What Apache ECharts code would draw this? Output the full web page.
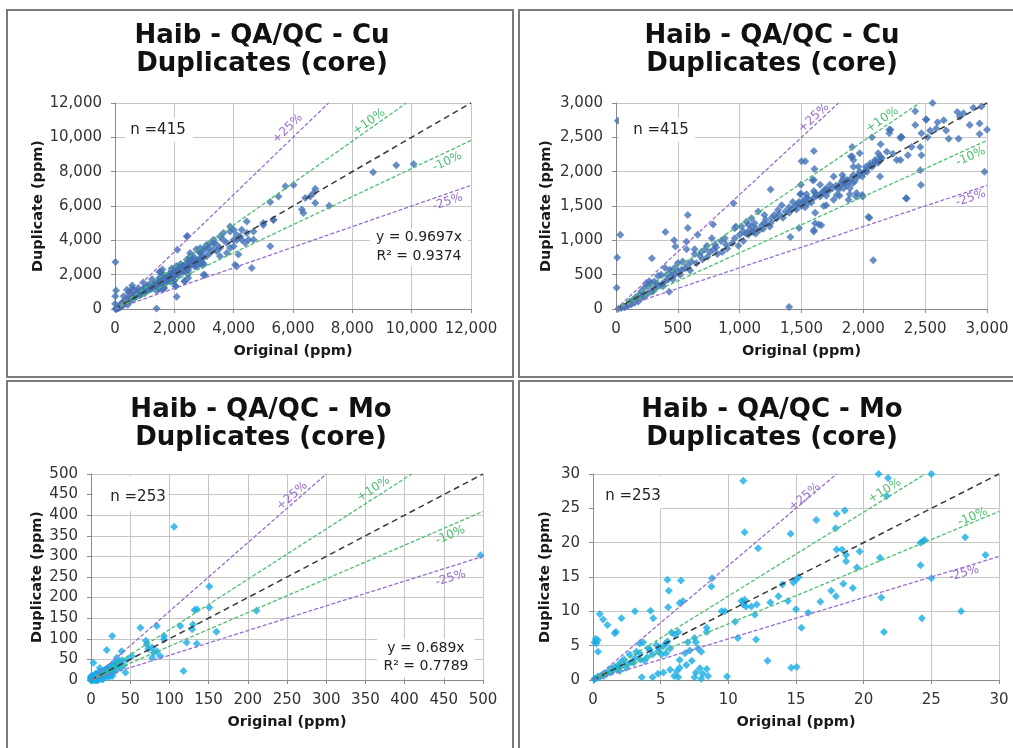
<!DOCTYPE html>
<html><head><meta charset="utf-8">
<script src="https://cdn.jsdelivr.net/npm/echarts@6/dist/echarts.min.js"></script>
<style>html,body{margin:0;padding:0;background:#fff}#c{width:1013px;height:748px}</style>
</head><body><div id="c"></div>
<script>
// ---- data ----
const cuTitle = 'Haib - QA/QC - Cu\nDuplicates (core)';
const moTitle = 'Haib - QA/QC - Mo\nDuplicates (core)';
const cuCountText = 'n =415';
const moCountText = 'n =253';
const cuRegressionText = 'y = 0.9697x\nR² = 0.9374';
const moRegressionText = 'y = 0.689x\nR² = 0.7789';
const refLineLabels = ['+25%', '+10%', '', '-10%', '-25%'];
const refLineSlopes = [1.25 / 0.75, 1.1 / 0.9, 1, 0.9 / 1.1, 0.75 / 1.25];

// Cu duplicates: [original, duplicate] ppm
const cuPoints = [
 [20,5],[45,15],[70,25],[100,50],[125,70],[150,90],[180,110],[205,160],[230,180],[260,230],[285,250],[310,300],
 [340,330],[370,360],[395,400],[420,430],[450,480],[475,500],[500,550],[530,570],[555,590],[580,640],[610,690],
 [650,665],[636,800],[676,780],[690,830],[720,870],[760,830],[790,870],[810,900],[735,920],[775,1030],[800,940],
 [850,990],[880,1030],[890,940],[860,830],[500,670],[475,600],[435,570],[410,500],[395,600],[365,500],[340,480],
 [310,400],[285,380],[260,330],[230,310],[205,260],[190,210],[165,180],[140,140],[110,110],[245,380],[270,400],
 [450,550],[540,690],[636,870],[570,870],[785,1230],[660,1080],[480,910],[60,40],[90,60],[160,140],[220,200],
 [300,260],[330,370],[380,330],[460,430],[520,500],[600,560],[700,720],[740,760],[820,800],[900,880],[940,960],
 [15,2740],[35,1080],[10,750],[5,310],[950,1540],[580,1370],[580,1180],[400,1120],[470,1000],[570,980],
 [1250,1740],[290,740],[430,250],[1400,30],[1410,1050],[1110,1120],[970,1200],[1160,1150],[1480,1180],
 [1500,2150],[1495,1810],[1490,1670],[1400,1480],[1340,1510],[1430,1560],[1460,1450],[1280,1370],[1310,1440],
 [1200,1370],[1150,1420],[1095,1320],[1120,1250],[1070,1230],[1055,1270],[1015,1200],[1030,1130],[1080,1150],
 [1000,1080],[960,1175],[960,1030],[1030,990],[990,920],[1070,1080],[1135,1170],[1200,1250],[1190,1170],
 [1244,1200],[1050,1100],[1100,1130],[1100,1200],[1130,1100],[1180,1220],[1210,1300],[1250,1250],[1260,1330],
 [1300,1320],[1320,1380],[1350,1330],[1370,1420],[1400,1400],[1420,1450],[1450,1500],[1470,1530],[1480,1560],
 [1500,1500],[1520,1560],[1550,1540],[1560,1600],[1600,1620],[1620,1650],[1650,1640],[1680,1700],[1700,1750],
 [1720,1720],[1750,1760],[1780,1800],[1800,1780],[1820,1820],[1850,1830],[1870,1880],[1880,1850],[1900,1900],
 [1920,1950],[1950,1920],[1970,2000],[2000,1980],[2020,2020],[2050,2080],[2080,2100],[2100,2150],[2120,2130],
 [2150,2200],[1495,1680],[1590,1880],[1605,2040],[1600,1150],[1660,1220],[1700,1510],[1700,1650],[1808,1650],
 [1830,1950],[1910,2220],[1914,1830],[1940,1640],[1995,1640],[2050,1330],[2080,710],[2070,2500],[2210,2610],
 [2305,2510],[2345,1612],[2466,1806],[2506,2760],[2560,3000],
 [1600,2300],[1530,2150],[2890,2930],[2955,2950],[2810,2850],[2780,2800],[2860,2680],[2940,2700],[3000,2610],
 [2940,2550],[2690,2480],[2770,2480],[2670,2600],[2650,2750],[2590,2630],[2600,2720],[2510,2760],[2540,2600],
 [2470,2560],[2520,2500],[2460,2360],[2470,2240],[2460,2020],[2350,1610],[2310,2500],[2220,2610],[2270,2170],
 [2300,2170],[2360,2240],[2390,2360],[2240,2260],[2140,2400],[2120,2270],[2135,2220],[2095,2170],[2070,2070],
 [2055,2120],[2135,1930],[2040,1340],[1900,2220],[1920,2170],[1920,2070],[1960,2070],[1990,1930],[2020,2070],
 [2030,2000],[1960,1950],[1840,1900],[1760,1930],[1825,1860],[1860,1810],[1840,1760],[1800,1740],[1890,1670],
 [1946,1690],[1880,1590],[1990,1660],[1785,1660],[1730,1810],[1690,1740],[1660,1690],[1610,1690],[1650,1810],
 [1600,1880],[1600,1720],[1540,1620],[1580,1550],[1515,1580],[1540,1670],[1680,1500],[1610,1400],[1530,1480],
 [1610,1250],[1640,1230],[1600,1130],[1760,1590],[1890,1760],[1930,1860],[1970,2270],[2135,2170],
 [8700,7960],[9480,8370],[10065,8450],[5740,7150],[6020,7220],[5510,6560],[5230,6230],[6690,6760],[6750,7010],
 [6580,6560],[6410,6470],[6300,5790],[6350,5590],[6750,6170],[7220,6020],[5340,5200],[5230,3650],[4670,4040],
 [5000,5010],[4670,4520],[4440,5100],[4440,4430],[4270,4620],[4390,3840],[4610,2390],[4050,2580],[4160,3170],
 [3880,3550],[4000,4040],[3880,4520],[3650,4040],[3430,3750],[3320,4040],[3090,3070],[2980,2000],[2420,4230],
 [2440,4250],[5340,5180],[5000,4890],[4100,2470],[4100,4020],[3880,4800],[3540,4220],[3200,3820],[2870,3340],
 [3030,1980],[3030,3600],[2530,3050],[2210,2560],[1910,2360],[2100,3450],[2740,3480],[2420,2880],
 [3090,3750],[2870,3550],[3320,3460],[3540,3550],[3770,3840],[4000,3650],[4220,4230],[3200,3260],[2760,2870],
 [2920,3170],[2640,3070],[2530,3260],[3540,3070],[3770,3260],[3430,3360],[3030,3460],[4270,4040],[4500,4040],
 [4100,4330],[3320,3840],[3650,4430],[4000,4620],[3150,3550],[2870,3260],[2420,2680],[2300,2490],[2190,2290]
];

// Mo duplicates: [original, duplicate] ppm
const moPoints = [
 [0.1,0.1],[0.12,0.2],[0.37,0.5],[0.62,0.7],[0.86,0.9],[1.1,1.2],[1.35,1.7],[1.6,1.9],[1.85,2.2],[2.1,2.7],
 [2.3,3.0],[2.7,3.7],[3.1,3.2],[3.2,4.1],[3.45,3.9],[3.45,5.3],[3.7,5.5],[4.1,4.6],[4.4,3.7],[4.2,4.4],[4.7,5.1],
 [4.8,4.2],[4.9,4.7],[5.05,3.7],[5.2,4.9],[5.4,3.9],[5.4,5.4],[5.5,5.6],[5.7,4.6],[5.8,6.9],[6.04,6.6],[6.3,7.0],
 [3.8,2.8],[2.8,2.6],[2.46,1.8],[1.97,1.3],[0.3,0.3],[0.5,0.4],[0.8,0.6],[1.0,0.9],[1.3,1.1],[1.5,1.4],[1.8,1.6],
 [2.0,2.0],[2.5,2.3],[3.0,2.5],[3.5,3.0],[4.0,3.3],
 [0.5,9.6],[0.75,8.8],[1.06,8.0],[1.6,6.8],[1.7,7.0],[0.1,5.5],[0.25,5.3],[0.2,6.0],[0.35,5.8],[0.37,4.1],
 [2.1,9.0],[3.1,10.0],[4.25,10.1],[4.45,9.0],[5.5,14.6],[6.5,14.5],[5.6,13.0],[8.8,14.8],[8.75,13.6],[6.4,11.2],
 [6.65,11.5],[5.55,10.6],
 [6.2,1.3],[6.4,1.8],[6.0,0.6],[6.3,0.4],[4.4,0.4],[4.8,0.9],[5.2,1.1],[5.7,1.5],[3.6,0.4],[7.3,2.8],[7.6,1.1],
 [7.9,1.7],[8.1,0.9],[8.4,1.6],[8.5,0.6],[7.5,0.4],[8.0,0.2],[6.8,3.9],[6.4,2.9],[6.9,2.2],[9.9,0.5],[8.4,7.6],
 [8.4,7.0],[7.5,6.1],[7.6,5.5],[7.76,4.6],[8.0,4.1],[7.0,5.5],[7.15,4.3],
 [9.5,10.0],[9.75,10.0],[10.97,11.5],[11.1,11.0],[11.2,11.7],[11.3,10.7],[11.95,9.5],[12.1,11.0],[11.7,10.7],
 [13.1,11.3],[13.7,12.2],[14.4,11.5],[14.8,14.2],[14.0,13.9],[10.5,8.5],[10.7,6.1],[12.05,5.9],[12.9,2.8],
 [14.65,1.8],[11.1,29.0],[11.2,21.5],[12.2,19.2],[14.6,21.3],
 [21.1,30.0],[21.8,29.4],[21.7,26.8],[16.5,23.3],[18.0,24.2],[18.6,24.7],[17.93,22.1],[18.0,19.0],[18.4,19.0],
 [18.7,18.2],[18.7,17.3],[19.7,18.7],[19.5,16.4],[21.2,17.8],[21.3,12.0],[21.5,7.0],[17.6,13.0],[17.95,12.2],
 [18.5,14.0],[19.2,13.4],[16.8,11.4],[15.9,9.8],[15.4,7.6],[15.05,1.9],[15.0,14.6],[15.2,15.0],[15.0,10.3],
 [24.2,20.0],[24.5,20.4],[24.4,20.2],[24.2,16.7],[25.0,14.8],[24.3,9.0],[27.2,10.0],[27.5,20.8],[29.0,18.2],
 [106,372],[151,227],[151,176],[132,170],[135,172],[211,168],[497,303],[160,117],[135,88],[122,91],[118,22],
 [114,131],[129,123],[130,135],[84,131],[93,107],[93,99],[63,127],[70,95],[71,87],[78,79],[80,66],[84,70],
 [88,58],[78,54],[73,75],[52,58],[46,50],[44,18],[39,70],[27,107],[20,73],[3,42],[33,54],[29,42],
 [25,30],[28,35],[32,40],[35,38],[24,32],[36,45],[40,48],[38,30],[33,25],[31,33],[42,36]
];

// ---- layout / style ----
const FONT = 'DejaVu Sans';
const PURPLE = '#9b6ccf', GREEN = '#4cbf6e', BLACK = '#3a3a3a';
const refColors = [PURPLE, GREEN, BLACK, GREEN, PURPLE];
const fmt = v => Number(v).toLocaleString('en-US');

const panels = [
  {title: cuTitle, titleX: 262, titleY: 22, data: cuPoints, max: 12000, interval: 2000, color: '#4273b6',
   grid: {left:115, top:103, width:356, height:206}, yGap: 69,
   labels: [['insideEndTop',[29,4]],['insideEndTop',[23,0]],null,['insideEndBottom',[15,3]],['insideEndBottom',[12,2]]]},
  {title: cuTitle, titleX: 772, titleY: 22, data: cuPoints, max: 3000, interval: 500, color: '#4273b6',
   grid: {left:616, top:103, width:371, height:206}, yGap: 62,
   labels: [['insideEndTop',[10,0]],['insideEndTop',[22,1]],null,['insideEndBottom',[6,2]],['insideEndBottom',[4,1]]]},
  {title: moTitle, titleX: 261, titleY: 396, data: moPoints, max: 500, interval: 50, color: '#17ade6',
   grid: {left:91, top:474, width:392, height:206}, yGap: 46,
   labels: [['insideEndTop',[22,0]],['insideEndTop',[22,2]],null,['insideEndBottom',[24,3]],['insideEndBottom',[22,5]]]},
  {title: moTitle, titleX: 772, titleY: 396, data: moPoints, max: 30, interval: 5, color: '#17ade6',
   grid: {left:593, top:474, width:406, height:206}, yGap: 40,
   labels: [['insideEndTop',[21,-3]],['insideEndTop',[25,1]],null,['insideEndTop',[11,-1]],['insideEndBottom',[23,0]]]}
];

function axisCommon(i, p, name, gap) {
  return {
    gridIndex: i, type: 'value', min: 0, max: p.max, interval: p.interval,
    name: name, nameLocation: 'middle', nameGap: gap,
    nameTextStyle: {fontFamily: FONT, fontWeight: 'bold', fontSize: 14.5, color: '#1a1a1a'},
    axisLine: {show: true, onZero: false, lineStyle: {color: '#8a8a8a', width: 1}},
    axisTick: {show: true, length: 4, lineStyle: {color: '#8a8a8a'}},
    axisLabel: {fontFamily: FONT, fontSize: 15, color: '#333', margin: 13, formatter: fmt},
    splitLine: {show: true, lineStyle: {color: '#c6c6c6', width: 1}}
  };
}

const option = {
  animation: false,
  backgroundColor: '#fff',
  title: panels.map(p => ({
    text: p.title, left: p.titleX, top: p.titleY, textAlign: 'center', padding: 0,
    textStyle: {fontFamily: FONT, fontWeight: 'bold', fontSize: 26, lineHeight: 28, color: '#111'}
  })),
  grid: panels.map(p => Object.assign({containLabel: false}, p.grid)),
  xAxis: panels.map((p, i) => axisCommon(i, p, 'Original (ppm)', 35)),
  yAxis: panels.map((p, i) => axisCommon(i, p, 'Duplicate (ppm)', p.yGap)),
  series: panels.map((p, i) => ({
    type: 'scatter', xAxisIndex: i, yAxisIndex: i, data: p.data,
    symbol: 'diamond', symbolSize: 8, clip: true,
    itemStyle: {color: p.color},
    markLine: {
      silent: true, symbol: ['none', 'none'], animation: false,
      data: refLineSlopes.map((k, j) => {
        const end = k > 1 ? [p.max / k, p.max] : [p.max, p.max * k];
        const ls = {color: refColors[j], type: j === 2 ? [6, 4] : [4, 2], width: j === 2 ? 1.5 : 1.3};
        const lab = p.labels[j] ? {show: true, formatter: refLineLabels[j], position: p.labels[j][0],
          distance: p.labels[j][1], color: refColors[j], fontFamily: FONT, fontSize: 12} : {show: false};
        return [{coord: [0, 0], lineStyle: ls, label: lab}, {coord: end, lineStyle: ls, label: lab}];
      })
    }
  })),
  graphic: [
    // panel frames
    {type:'rect', shape:{x:7, y:10, width:506, height:367}, style:{fill:'none', stroke:'#7a7a7a', lineWidth:2}, z:1},
    {type:'rect', shape:{x:519, y:10, width:510, height:367}, style:{fill:'none', stroke:'#7a7a7a', lineWidth:2}, z:1},
    {type:'rect', shape:{x:7, y:381, width:506, height:380}, style:{fill:'none', stroke:'#7a7a7a', lineWidth:2}, z:1},
    {type:'rect', shape:{x:519, y:381, width:510, height:380}, style:{fill:'none', stroke:'#7a7a7a', lineWidth:2}, z:1},
    // text boxes (white background)
    {type:'rect', shape:{x:125, y:118, width:68, height:24}, style:{fill:'#fff'}, z:50},
    {type:'text', x:158, y:130, style:{text: cuCountText, font:'15px "DejaVu Sans"', fill:'#222', textAlign:'center', textVerticalAlign:'middle', align:'center', verticalAlign:'middle'}, z:51},
    {type:'rect', shape:{x:370, y:229, width:98, height:37}, style:{fill:'#fff'}, z:50},
    {type:'text', x:419, y:247, style:{text: cuRegressionText, font:'14px "DejaVu Sans"', lineHeight:19, fill:'#222', textAlign:'center', textVerticalAlign:'middle', align:'center', verticalAlign:'middle'}, z:51},
    {type:'rect', shape:{x:619, y:118, width:76, height:24}, style:{fill:'#fff'}, z:50},
    {type:'text', x:661, y:130, style:{text: cuCountText, font:'15px "DejaVu Sans"', fill:'#222', textAlign:'center', textVerticalAlign:'middle', align:'center', verticalAlign:'middle'}, z:51},
    {type:'rect', shape:{x:93, y:476, width:75, height:35}, style:{fill:'#fff'}, z:50},
    {type:'text', x:138, y:497, style:{text: moCountText, font:'15px "DejaVu Sans"', fill:'#222', textAlign:'center', textVerticalAlign:'middle', align:'center', verticalAlign:'middle'}, z:51},
    {type:'rect', shape:{x:377, y:639, width:98, height:38}, style:{fill:'#fff'}, z:50},
    {type:'text', x:426, y:657, style:{text: moRegressionText, font:'14px "DejaVu Sans"', lineHeight:18, fill:'#222', textAlign:'center', textVerticalAlign:'middle', align:'center', verticalAlign:'middle'}, z:51},
    {type:'rect', shape:{x:594, y:476, width:67, height:33}, style:{fill:'#fff'}, z:50},
    {type:'text', x:633, y:496, style:{text: moCountText, font:'15px "DejaVu Sans"', fill:'#222', textAlign:'center', textVerticalAlign:'middle', align:'center', verticalAlign:'middle'}, z:51}
  ]
};

const chart = echarts.init(document.getElementById('c'), null, {renderer: 'canvas'});
chart.setOption(option);
</script></body></html>
